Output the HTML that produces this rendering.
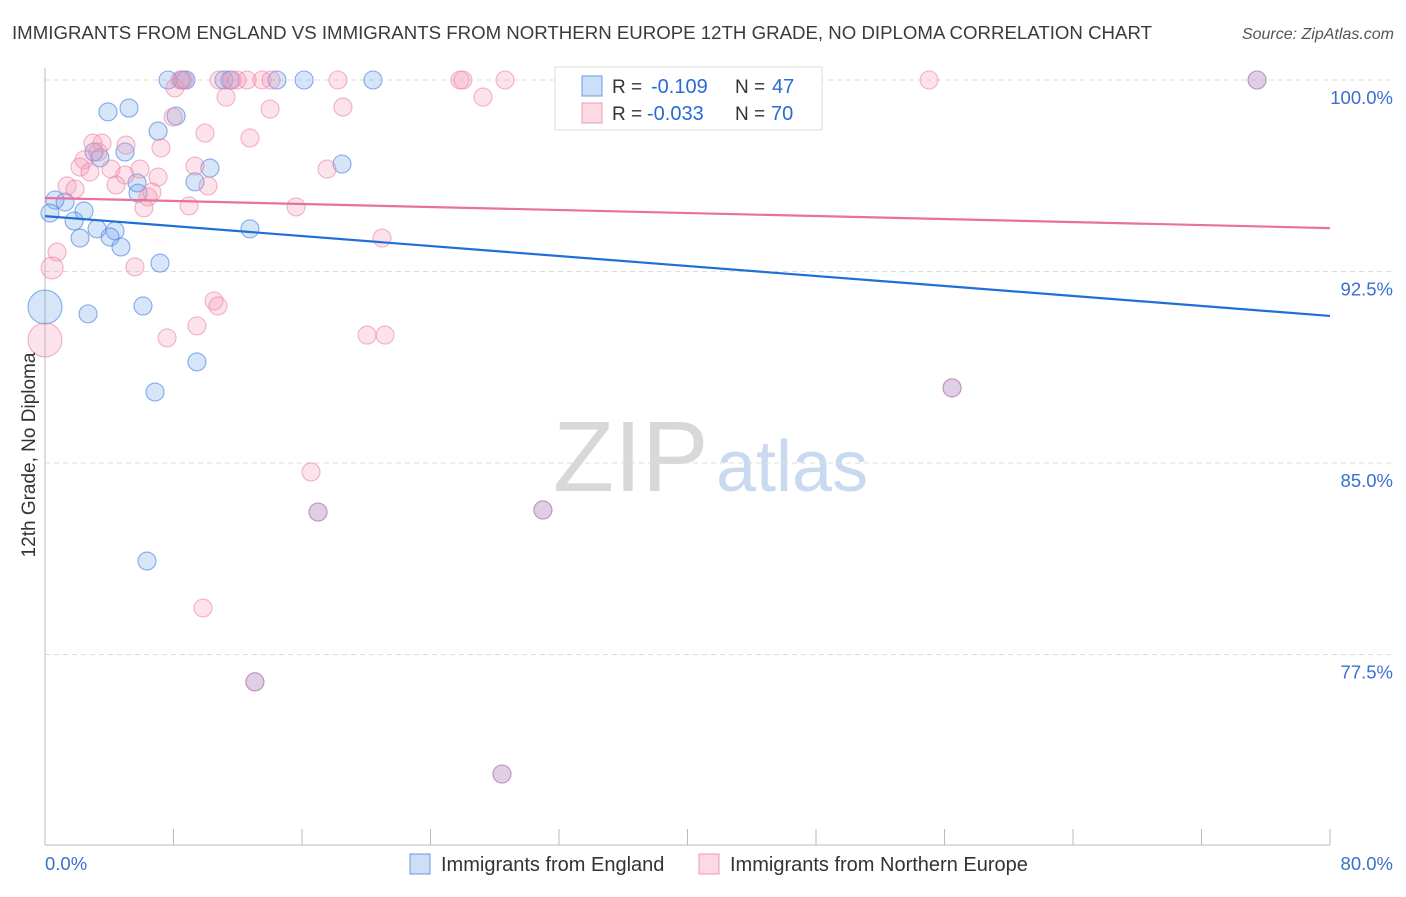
<!DOCTYPE html>
<html><head><meta charset="utf-8"><style>
body{margin:0;background:#fff;font-family:"Liberation Sans",sans-serif;}
svg text{font-family:"Liberation Sans",sans-serif;}
</style></head><body>
<svg id="chart" width="1406" height="892" viewBox="0 0 1406 892" xmlns="http://www.w3.org/2000/svg">
<text x="12" y="39" font-size="18.6" fill="#3a3a3a" textLength="1140" lengthAdjust="spacingAndGlyphs">IMMIGRANTS FROM ENGLAND VS IMMIGRANTS FROM NORTHERN EUROPE 12TH GRADE, NO DIPLOMA CORRELATION CHART</text>
<text x="1394" y="39" font-size="16" font-style="italic" fill="#555" text-anchor="end">Source: ZipAtlas.com</text>
<g>
<text x="553" y="491" font-size="100" font-family="Liberation Serif" fill="#d8d8d8">ZIP</text>
<text x="716" y="491" font-size="72" fill="#c9d9f0">atlas</text>
</g>
<g id="grid"></g>
<g id="axes"></g>
<g id="pts-eng"></g>
<g id="pts-ne"></g>
<g id="trends"></g>
<text transform="translate(35,455) rotate(-90)" font-size="19" fill="#333" text-anchor="middle">12th Grade, No Diploma</text>
<g>
<rect x="555" y="67" width="267" height="63" fill="#fff" stroke="#ddd"/>
<rect x="582" y="76" width="20" height="20" fill="rgba(110,160,235,0.35)" stroke="#6a9ae0"/>
<rect x="582" y="103" width="20" height="20" fill="rgba(245,150,180,0.35)" stroke="#eb9ab3"/>
<text x="612" y="93" font-size="19" fill="#333">R =</text>
<text x="651" y="93" font-size="20" fill="#2a6ad8">-0.109</text>
<text x="735" y="93" font-size="19" fill="#333">N =</text>
<text x="772" y="93" font-size="20" fill="#2a6ad8">47</text>
<text x="612" y="120" font-size="19" fill="#333">R =</text>
<text x="647" y="120" font-size="20" fill="#2a6ad8">-0.033</text>
<text x="735" y="120" font-size="19" fill="#333">N =</text>
<text x="771" y="120" font-size="20" fill="#2a6ad8">70</text>
</g>
<g>
<rect x="410" y="854" width="20" height="20" fill="rgba(110,160,235,0.35)" stroke="#6a9ae0"/>
<text x="441" y="871" font-size="20" fill="#333">Immigrants from England</text>
<rect x="699" y="854" width="20" height="20" fill="rgba(245,150,180,0.35)" stroke="#eb9ab3"/>
<text x="730" y="871" font-size="20" fill="#333">Immigrants from Northern Europe</text>
</g>
</svg>
<script>
const engX=[7.66,8.53,8.78,11.14,11.52,14.44,16.13,20.42,75.46,3.92,5.23,7.04,8.16,4.98,3.42,3.05,5.73,5.79,9.34,10.27,18.49,0.62,1.25,0.31,2.43,1.81,3.24,4.36,4.05,2.18,4.73,12.76,7.16,0,2.68,6.10,9.46,6.85,6.35,56.47,17.00,31.00,13.07,28.45];
const engY=[100,100,100,100,100,100,100,100,100,98.75,98.90,98.00,98.59,97.18,96.95,97.18,95.97,95.57,96.01,96.55,96.71,95.30,95.22,94.79,94.87,94.48,94.17,94.09,93.85,93.81,93.46,94.17,92.83,91.11,90.84,91.15,88.96,87.78,81.16,87.94,83.08,83.16,76.43,72.82];
const engR=[9,9,9,9,9,9,9,9,9,9,9,9,9,9,9,9,9,9,9,9,9,9,9,9,9,9,9,9,9,9,9,9,9,17,9,9,9,9,9,9,9,9,9,9];
const neX=[8.41,8.09,8.65,10.83,11.64,11.95,12.58,13.51,14.07,18.24,25.84,26.02,28.64,55.04,75.46,11.27,7.97,14.01,18.55,27.27,9.96,12.76,2.99,3.55,5.04,3.30,2.43,2.18,2.80,4.11,5.91,4.98,7.22,9.34,10.15,7.04,4.42,1.37,1.87,6.66,6.41,6.16,8.97,15.63,17.56,20.98,0.75,0.44,5.60,10.52,10.77,9.46,7.60,20.05,21.17,0,16.56,9.84,17.00,31.00,13.07,28.45,56.47];
const neY=[100,99.69,100,100,100,100,100,100,100,100,100,100,100,100,100,99.33,98.55,98.86,98.94,99.33,97.92,97.73,97.53,97.53,97.45,97.18,96.87,96.59,96.40,96.51,96.51,96.28,97.34,96.63,95.85,96.20,95.89,95.85,95.73,95.61,95.42,94.99,95.07,95.03,96.51,93.81,93.26,92.64,92.68,91.35,91.15,90.37,89.90,90.01,90.01,89.82,84.65,79.32,83.08,83.16,76.43,72.82,87.94];
const neR=neX.map((v,i)=>(i===55?17:(i===47?11:9)));
const yTicks=[100,92.5,85,77.5];
const yTickLabels=["100.0%","92.5%","85.0%","77.5%"];
const xTicks=[0,8,16,24,32,40,48,56,64,72,80];
const engTrend=[94.67,90.76];
const neTrend=[95.38,94.20];
const NS="http://www.w3.org/2000/svg";
const X=v=>45+v/80*1285;
const Y=v=>80+(100-v)/7.5*191.5;
function mk(tag,attrs,parent){const e=document.createElementNS(NS,tag);for(const k in attrs)e.setAttribute(k,attrs[k]);document.getElementById(parent).appendChild(e);return e;}
yTicks.forEach((t,i)=>{
 const l=mk('line',{x1:45,x2:1395,y1:Y(t),y2:Y(t),stroke:'#ddd','stroke-dasharray':'5,4'},'grid');
 
 
 const tx=mk('text',{x:1393,y:Y(t)+24,'font-size':18.5,fill:'#3a6fd0','text-anchor':'end'},'grid');
 tx.textContent=yTickLabels[i];
 
 
});
const ax=mk('line',{x1:45,x2:1330,y1:845,y2:845,stroke:'#bbb'},'axes');


const ay=mk('line',{x1:45,x2:45,y1:68,y2:845,stroke:'#bbb'},'axes');


xTicks.forEach(t=>{
 const l=mk('line',{x1:X(t),x2:X(t),y1:829,y2:845,stroke:'#bbb'},'axes');
 
 
});
const xl0=mk('text',{x:45,y:870,'font-size':18.5,fill:'#3a6fd0'},'axes');xl0.textContent=xTicks[0].toFixed(1)+'%';


const xl1=mk('text',{x:1393,y:870,'font-size':18.5,fill:'#3a6fd0','text-anchor':'end'},'axes');xl1.textContent=xTicks[xTicks.length-1].toFixed(1)+'%';


engX.forEach((v,i)=>{
 const c=mk('circle',{cx:X(v),cy:Y(engY[i]),r:engR[i],fill:'rgba(110,160,235,0.28)',stroke:'rgba(70,130,225,0.65)','stroke-width':1.1},'pts-eng');
 
 
});
neX.forEach((v,i)=>{
 const c=mk('circle',{cx:X(v),cy:Y(neY[i]),r:neR[i],fill:'rgba(245,150,180,0.28)',stroke:'rgba(235,130,165,0.6)','stroke-width':1.1},'pts-ne');
 
 
});
const t1=mk('line',{x1:X(0),x2:X(80),y1:Y(neTrend[0]),y2:Y(neTrend[1]),stroke:'#e8729a','stroke-width':2.2},'trends');


const t2=mk('line',{x1:X(0),x2:X(80),y1:Y(engTrend[0]),y2:Y(engTrend[1]),stroke:'#1f6fd6','stroke-width':2.2},'trends');


</script>
</body></html>
